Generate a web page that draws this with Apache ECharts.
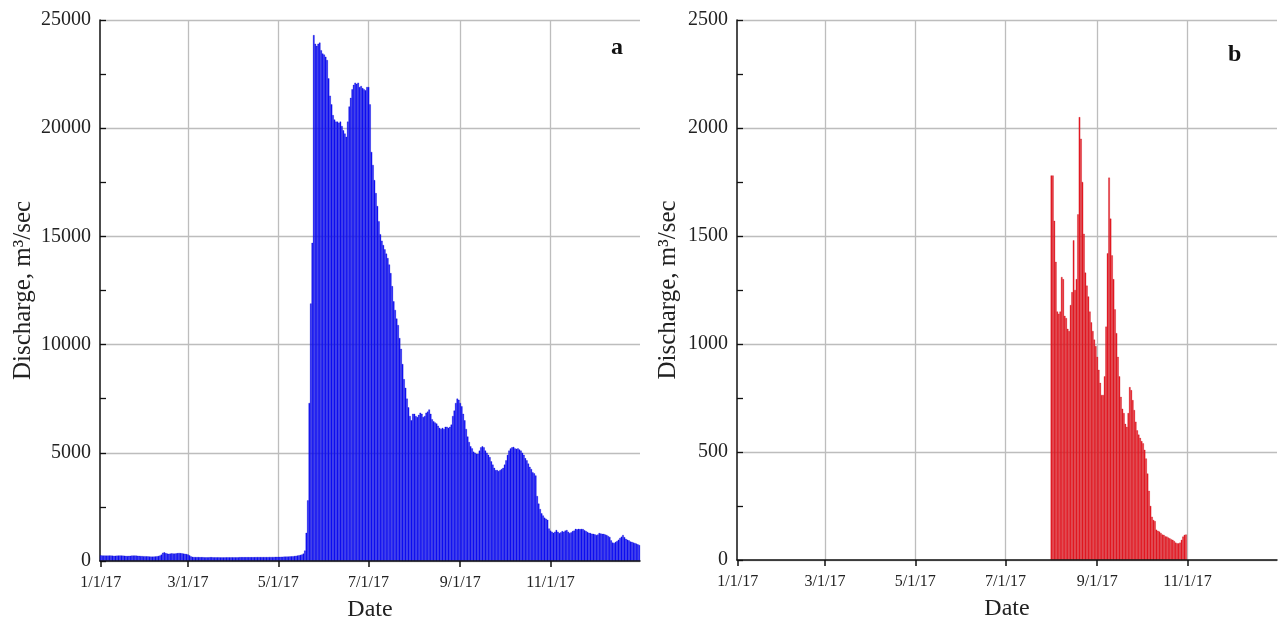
<!DOCTYPE html>
<html><head><meta charset="utf-8">
<script src="https://cdn.jsdelivr.net/npm/echarts@6/dist/echarts.min.js"></script>
<style>html,body{margin:0;padding:0;background:#fff}#c{width:1281px;height:624px}</style>
</head><body><div id="c"></div>
<script>
// x tick labels (every second month)
const tickLabels = ['1/1/17','3/1/17','5/1/17','7/1/17','9/1/17','11/1/17'];
const monthLengths = [31,28,31,30,31,30,31,31,30,31,30,31];

// Panel a: daily discharge (m3/sec), one array per month
const aJan = [260,255,250,250,245,250,255,250,245,240,240,245,250,255,250,245,240,235,230,235,240,245,250,250,245,240,235,230,225,220,220];
const aFeb = [215,210,205,200,200,205,210,220,230,250,290,380,400,360,340,330,340,350,345,340,350,360,370,360,350,340,330,320];
const aMar = [300,260,210,190,185,180,180,180,175,175,175,170,170,170,170,175,175,170,170,170,170,170,165,165,165,165,170,170,170,170,170];
const aApr = [170,170,170,170,175,175,175,175,175,175,175,175,175,175,175,180,180,180,180,180,180,180,180,180,185,185,185,185,190,190];
const aMay = [190,190,195,195,200,200,205,205,210,215,220,230,240,250,265,280,300,340,480,1300,2800,7300,11900,14700,24300,23900,23800,23900,23950,23600,23450];
const aJun = [23400,23300,23150,22300,21500,21100,20600,20400,20300,20300,20250,20300,20100,19900,19750,19600,20300,21000,21400,21800,22000,22100,22050,22100,21900,21950,21850,21800,21750,21900];
const aJul = [21900,21100,18900,18300,17600,17000,16400,15700,15100,14800,14600,14400,14200,14000,13700,13300,12700,12000,11600,11200,10900,10300,9800,9100,8400,8000,7500,7100,6700,6500,6800];
const aAug = [6800,6700,6650,6750,6850,6800,6650,6700,6850,6900,7000,6800,6550,6450,6400,6350,6250,6150,6100,6150,6100,6200,6200,6150,6200,6300,6700,6950,7300,7500,7450];
const aSep = [7300,7150,6800,6500,6100,5750,5500,5300,5200,5050,5000,4950,4950,5100,5250,5300,5250,5100,5000,4900,4800,4600,4450,4300,4200,4200,4150,4200,4250,4300];
const aOct = [4450,4650,4900,5100,5200,5250,5270,5200,5180,5200,5150,5100,5000,4900,4750,4650,4500,4350,4250,4100,4050,3950,3000,2650,2400,2200,2100,2000,1950,1900,1500];
const aNov = [1400,1350,1300,1350,1430,1350,1290,1320,1380,1350,1400,1430,1350,1290,1320,1380,1400,1480,1460,1480,1470,1480,1470,1420,1380,1340,1300,1290,1260,1250];
const aDec = [1230,1200,1220,1290,1270,1250,1250,1220,1200,1150,1110,950,850,830,880,920,980,1060,1120,1200,1100,1020,980,950,900,880,850,830,800,770,740];

// Panel b: daily discharge (m3/sec), recorded Aug-Oct only
const bAug = [1780,1780,1570,1380,1150,1140,1150,1310,1300,1130,1120,1070,1060,1180,1240,1480,1250,1300,1600,2050,1950,1750,1510,1330,1270,1220,1150,1100,1060,1020,990];
const bSep = [940,880,820,764,764,850,1080,1420,1770,1580,1410,1300,1160,1050,940,850,755,700,680,630,616,680,800,786,740,694,640,600,580,565];
const bOct = [550,540,510,470,400,320,250,200,185,180,140,135,131,125,118,116,110,108,104,100,96,93,88,80,77,77,80,93,108,116,118];

// categories: every day of 2017 as M/D/17
const categories = [];
monthLengths.forEach((n, m) => { for (let d = 1; d <= n; d++) categories.push((m + 1) + '/' + d + '/17'); });

const seriesA = [].concat(aJan, aFeb, aMar, aApr, aMay, aJun, aJul, aAug, aSep, aOct, aNov, aDec);
const blank = n => new Array(n).fill('-');
const daysBeforeAug = monthLengths.slice(0, 7).reduce((s, v) => s + v, 0);
const seriesB = [].concat(blank(daysBeforeAug), bAug, bSep, bOct, blank(30 + 31));

const FONT = '"Liberation Serif", "Times New Roman", serif';
const isTick = (i, v) => tickLabels.indexOf(v) >= 0;
const axisColor = '#111';
const gridColor = '#bdbdbd';

function xAxisCfg(gi) {
  return {
    type: 'category', gridIndex: gi, data: categories, boundaryGap: true, z: 10,
    axisLine: { lineStyle: { color: axisColor, width: 1.5 } },
    axisTick: { show: true, alignWithLabel: true, interval: isTick, length: 6, lineStyle: { color: axisColor, width: 1.5 } },
    axisLabel: { interval: isTick, fontFamily: FONT, fontSize: 16, color: '#222', margin: 14 },
    splitLine: { show: false },
    name: 'Date', nameLocation: 'middle', nameGap: 37,
    nameTextStyle: { fontFamily: FONT, fontSize: 24, color: '#222' }
  };
}
function yAxisCfg(gi, max, interval, gap) {
  return {
    type: 'value', gridIndex: gi, min: 0, max: max, interval: interval,
    axisLine: { show: true, lineStyle: { color: axisColor, width: 1.5 } },
    axisTick: { show: true, inside: true, length: 6, lineStyle: { color: axisColor, width: 1.3 } },
    minorTick: { show: true, splitNumber: 2, length: 6, lineStyle: { color: axisColor, width: 1.3 } },
    axisLabel: { fontFamily: FONT, fontSize: 20, color: '#222', margin: 9, formatter: v => String(v) },
    splitLine: { show: true, lineStyle: { color: gridColor, width: 1.3 } },
    name: 'Discharge, m³/sec', nameLocation: 'middle', nameGap: gap, nameRotate: 90,
    nameTextStyle: { fontFamily: FONT, fontSize: 25, color: '#222' }
  };
}
// vertical grid lines at the labelled dates (except the first, which is the y axis)
function vGrid(gi) {
  return {
    type: 'line', xAxisIndex: gi, yAxisIndex: gi, data: blank(categories.length), z: 1, silent: true,
    showSymbol: false,
    markLine: {
      z: 1, silent: true, symbol: ['none', 'none'], label: { show: false }, animation: false,
      lineStyle: { color: gridColor, width: 1.3, type: 'solid' },
      data: tickLabels.slice(1).map(t => ({ xAxis: t }))
    }
  };
}

const chart = echarts.init(document.getElementById('c'), null, { renderer: 'canvas' });
chart.setOption({
  animation: false,
  backgroundColor: '#fff',
  grid: [
    { left: 100, right: 641, top: 20, bottom: 63, outerBoundsMode: 'none' },
    { left: 737, right: 4, top: 20, bottom: 64, outerBoundsMode: 'none' }
  ],
  xAxis: [xAxisCfg(0), xAxisCfg(1)],
  yAxis: [yAxisCfg(0, 25000, 5000, 64), yAxisCfg(1, 2500, 500, 56)],
  series: [
    vGrid(0), vGrid(1),
    { type: 'bar', xAxisIndex: 0, yAxisIndex: 0, data: seriesA, barCategoryGap: '0%', z: 3,
      itemStyle: { color: '#1212ff', borderColor: '#0000c8', borderWidth: 0.3 } },
    { type: 'bar', xAxisIndex: 1, yAxisIndex: 1, data: seriesB, barCategoryGap: '0%', z: 3,
      itemStyle: { color: '#ee1c25', borderColor: '#c0121c', borderWidth: 0.3 } }
  ],
  graphic: [
    { type: 'text', left: 611, top: 36, style: { text: 'a', font: 'bold 24px ' + FONT, fill: '#111' } },
    { type: 'text', left: 1228, top: 43, style: { text: 'b', font: 'bold 24px ' + FONT, fill: '#111' } }
  ]
});
</script></body></html>
